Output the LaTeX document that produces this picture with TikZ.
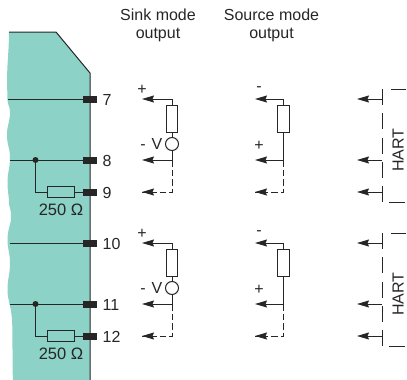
\documentclass[tikz,border=0pt]{standalone}
\usepackage{fontspec}
\setmainfont{Liberation Sans}
\usetikzlibrary{arrows.meta}
\definecolor{teal1}{HTML}{8CD2C6}
\definecolor{ink}{HTML}{262626}
\tikzset{
  x=1pt,y=-1pt,
  wire/.style={draw=ink,line width=1pt},
  dashwire/.style={wire,dash pattern=on 6.5pt off 3pt},
  tip/.style={-{Stealth[length=12pt,width=7pt,inset=1.5pt]}},
  res/.style={draw=ink,line width=1pt,minimum width=#1,inner sep=0pt,rectangle},
  term/.style={fill=ink,minimum width=14pt,minimum height=7pt,inner sep=0pt},
  lab/.style={text=ink,font=\fontsize{16}{18}\selectfont,inner sep=0pt},
}
\begin{document}
\begin{tikzpicture}
\useasboundingbox (0,0) rectangle (407,380);
\fill[teal1] (9,32) -- (56,32) -- (90,73) -- (90,380) -- (13,380)
  .. controls (12,365) and (13,335) .. (12,320)
  .. controls (11,305) and (7.5,300) .. (7.5,290)
  .. controls (7.5,278) and (10,275) .. (10,263)
  .. controls (10,252) and (7.5,250) .. (7.5,240)
  .. controls (7.5,228) and (11,226) .. (11,217)
  .. controls (11,208) and (9,206) .. (9,204)
  .. controls (9,195) and (7.5,192) .. (7.5,182)
  .. controls (7.5,172) and (10,168) .. (10,158)
  .. controls (10,148) and (7,145) .. (7,135)
  .. controls (7,125) and (10,122) .. (10,112)
  .. controls (10,106) and (7.5,105) .. (7.5,100)
  .. controls (7.5,92) and (7,88) .. (7,82)
  .. controls (7,65) and (9,50) .. (9,32) -- cycle;
\draw[draw=ink,line width=1pt] (9,32) -- (56,32) -- (90,73) -- (90,380);
\node[lab,align=center] (sink) at (158,25) {Sink mode\\output};
\node[lab,align=center] (source) at (271.5,25) {Source mode\\output};
\foreach \dy/\s/\na/\nb/\nc/\lx in {0/a/7/8/9/7.5,144/b/10/11/12/10}{
  \begin{scope}[yshift=-\dy pt]
  % terminals
  \node[term] (t1\s) at (90,99) {};
  \node[term] (t2\s) at (90,160) {};
  \node[term] (t3\s) at (90,192) {};
  \node[lab,anchor=west] (n1\s) at (102.5,99.5) {\na};
  \node[lab,anchor=west] (n2\s) at (102.5,160.5) {\nb};
  \node[lab,anchor=west] (n3\s) at (102.5,192.5) {\nc};
  \coordinate (l1\s) at (\lx,99);
  \coordinate (l2\s) at (10,160);
  \draw[wire] (l1\s) -- (t1\s);
  \draw[wire] (l2\s) -- (t2\s);
  \node[circle,fill=ink,minimum size=6pt,inner sep=0pt] (j\s) at (35.5,160) {};
  \node[res=27pt,minimum height=11pt,fill=teal1] (r\s) at (61,192) {};
  \draw[wire] (j\s) |- (r\s);
  \draw[wire] (r\s) -- (t3\s);
  \node[lab] (ohm\s) at (61,210) {\fontsize{16.5}{18}\selectfont 250 Ω};
  % sink
  \node[res=11.5pt,minimum height=27pt] (sr\s) at (172,118.5) {};
  \node[circle,draw=ink,line width=1pt,minimum size=13pt,inner sep=0pt] (sv\s) at (172,144) {};
  \coordinate (sc1\s) at (172,99);
  \coordinate (sc2\s) at (172,160);
  \coordinate (sc3\s) at (172,192);
  \coordinate (sa1\s) at (142,99);
  \coordinate (sa2\s) at (142,160);
  \coordinate (sa3\s) at (142,192);
  \draw[wire] (sr\s) -- (sc1\s);
  \draw[wire,tip] (sc1\s) -- (sa1\s);
  \draw[wire] (sr\s) -- (sv\s);
  \draw[wire] (sv\s) -- (sc2\s);
  \draw[wire,tip] (sc2\s) -- (sa2\s);
  \draw[dashwire] (sc2\s) -- (sc3\s) -- (sa3\s);
  \draw[wire,tip] (150,192) -- (sa3\s);
  \node[lab] (sp\s) at (142,89.5) {+};
  \node[lab] (sm\s) at (143,147) {-};
  \node[lab] (sV\s) at (157,143.5) {V};
  % source
  \node[res=11.5pt,minimum height=27pt] (or\s) at (283.5,118.5) {};
  \coordinate (oc1\s) at (283.5,99);
  \coordinate (oc2\s) at (283.5,160);
  \coordinate (oc3\s) at (283.5,192);
  \coordinate (oa1\s) at (255,99);
  \coordinate (oa2\s) at (255,160);
  \coordinate (oa3\s) at (255,192);
  \draw[wire] (or\s) -- (oc1\s);
  \draw[wire,tip] (oc1\s) -- (oa1\s);
  \draw[wire] (or\s) -- (oc2\s);
  \draw[wire,tip] (oc2\s) -- (oa2\s);
  \draw[dashwire] (oc2\s) -- (oc3\s) -- (oa3\s);
  \draw[wire,tip] (263,192) -- (oa3\s);
  \node[lab] (op\s) at (259,89.5) {-};
  \node[lab] (om\s) at (259,145.5) {+};
  % HART
  \coordinate (ht\s) at (382,89);
  \coordinate (hb\s) at (382,202);
  \draw[wire,dash pattern=on 16pt off 8.25pt] (ht\s) -- (hb\s);
  \coordinate (hc1\s) at (382,99);
  \coordinate (hc2\s) at (382,160);
  \coordinate (hc3\s) at (382,192);
  \coordinate (ha1\s) at (357,99);
  \coordinate (ha2\s) at (357,160);
  \coordinate (ha3\s) at (357,192);
  \draw[wire,tip] (hc1\s) -- (ha1\s);
  \draw[wire,tip] (hc2\s) -- (ha2\s);
  \draw[wire,tip] (hc3\s) -- (ha3\s);
  \coordinate (tka\s) at (391,89);
  \coordinate (tkb\s) at (406,89);
  \coordinate (tkc\s) at (389,202);
  \coordinate (tkd\s) at (405,202);
  \draw[wire] (tka\s) -- (tkb\s);
  \draw[wire] (tkc\s) -- (tkd\s);
  \node[lab,rotate=90] (hart\s) at (398,150) {HART};
  \end{scope}
}
\end{tikzpicture}
\end{document}
